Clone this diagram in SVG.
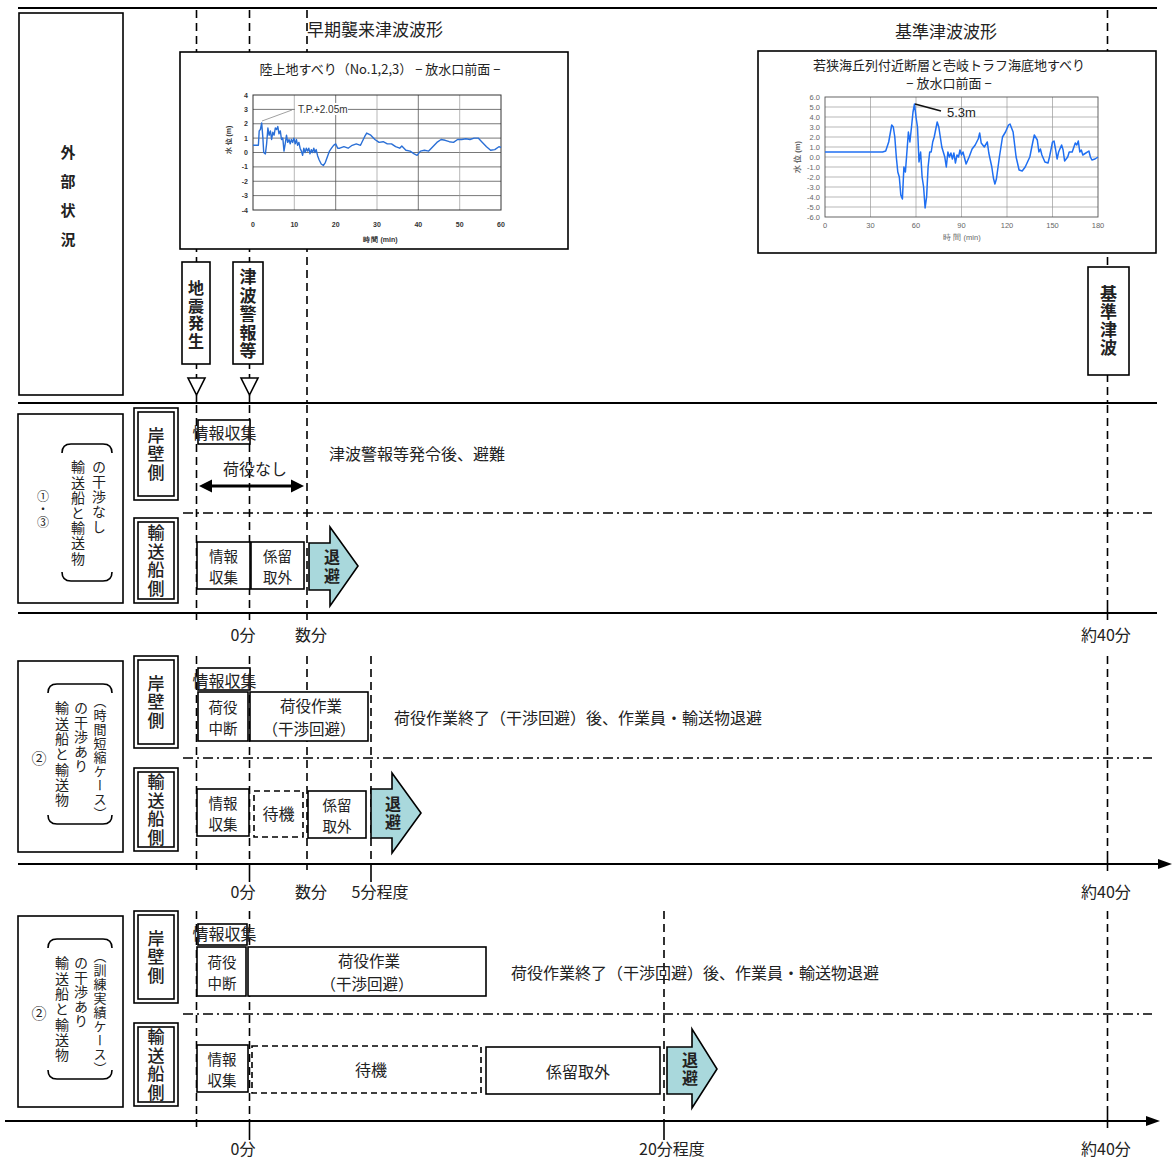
<svg xmlns="http://www.w3.org/2000/svg" width="1172" height="1160" viewBox="0 0 1172 1160">
<style>
.jp{font-family:"Noto Sans CJK JP","Noto Sans",sans-serif;fill:#222}
.f16{font-size:16px}
.f15{font-size:15px}
.f14{font-size:14px}
.f13{font-size:13px}
.f17{font-size:17px}
.bx{font-size:14.5px}
.bw{font-size:15.5px}
.b{font-weight:700}
.m{font-weight:500}
.c{text-anchor:middle;dominant-baseline:central}
.s{dominant-baseline:central}
.v{writing-mode:vertical-rl}
.dash{stroke:#000;stroke-width:1.6;stroke-dasharray:8 5;fill:none}
.dd{stroke:#000;stroke-width:1.4;stroke-dasharray:10 4 2 4;fill:none}
.ln{stroke:#000;stroke-width:2;fill:none}
.tk{stroke:#000;stroke-width:1.6;fill:none}
.box{fill:#fff;stroke:#000;stroke-width:1.6}
.nb{fill:none;stroke:#000;stroke-width:1.6}
.dbox{fill:#fff;stroke:#000;stroke-width:1.6;stroke-dasharray:6 4}
.arr{fill:#a9d8dc;stroke:#000;stroke-width:1.6}
.br{fill:none;stroke:#000;stroke-width:1.6}
.g1{stroke:#555;stroke-width:0.8;fill:none}
.g2{stroke:#999;stroke-width:0.7;fill:none}
.ax1{font-family:"Liberation Sans",sans-serif;font-size:7px;font-weight:700;fill:#333}
.ax2{font-family:"Liberation Sans",sans-serif;font-size:7.5px;fill:#666}
</style>

<g id="connectors">
  <line class="ln" x1="18" y1="8" x2="1157" y2="8"/>
  <line class="ln" x1="18" y1="403" x2="1157" y2="403"/>
  <line class="ln" x1="18" y1="613" x2="1157" y2="613"/>
  <line class="ln" x1="18" y1="864" x2="1160" y2="864"/>
  <polygon points="1172,864 1158,859 1158,869" fill="#000"/>
  <line class="ln" x1="5" y1="1121" x2="1148" y2="1121"/>
  <polygon points="1160,1121 1146,1116 1146,1126" fill="#000"/>
  <line class="dd" x1="183" y1="513" x2="1152" y2="513"/>
  <line class="dd" x1="183" y1="758" x2="1152" y2="758"/>
  <line class="dd" x1="183" y1="1014" x2="1152" y2="1014"/>
  <line class="dash" x1="196.5" y1="10" x2="196.5" y2="378"/>
  <line class="dash" x1="249.5" y1="10" x2="249.5" y2="378"/>
  <line class="tk" x1="196.5" y1="395" x2="196.5" y2="403"/>
  <line class="tk" x1="249.5" y1="395" x2="249.5" y2="403"/>
  <line class="dash" x1="307" y1="10" x2="307" y2="403"/>
  <line class="dash" x1="1107.5" y1="10" x2="1107.5" y2="403"/>
  <line class="dash" x1="196.5" y1="405" x2="196.5" y2="620"/>
  <line class="dash" x1="249.5" y1="405" x2="249.5" y2="620"/>
  <line class="dash" x1="307" y1="405" x2="307" y2="620"/>
  <line class="dash" x1="1107.5" y1="405" x2="1107.5" y2="606"/>
  <line class="tk" x1="1107.5" y1="606" x2="1107.5" y2="620"/>
  <line class="dash" x1="196.5" y1="656" x2="196.5" y2="870"/>
  <line class="dash" x1="249.5" y1="656" x2="249.5" y2="864"/>
  <line class="tk" x1="249.5" y1="864" x2="249.5" y2="882"/>
  <line class="dash" x1="307" y1="656" x2="307" y2="870"/>
  <line class="dash" x1="371" y1="656" x2="371" y2="864"/>
  <line class="tk" x1="371" y1="864" x2="371" y2="882"/>
  <line class="dash" x1="1107.5" y1="656" x2="1107.5" y2="857"/>
  <line class="tk" x1="1107.5" y1="857" x2="1107.5" y2="871"/>
  <line class="dash" x1="196.5" y1="911" x2="196.5" y2="1127"/>
  <line class="dash" x1="249.5" y1="911" x2="249.5" y2="1121"/>
  <line class="tk" x1="249.5" y1="1121" x2="249.5" y2="1140"/>
  <line class="dash" x1="664" y1="911" x2="664" y2="1121"/>
  <line class="tk" x1="664" y1="1121" x2="664" y2="1140"/>
  <line class="dash" x1="1107.5" y1="911" x2="1107.5" y2="1114"/>
  <line class="tk" x1="1107.5" y1="1114" x2="1107.5" y2="1128"/>
  <line x1="210" y1="486" x2="292" y2="486" stroke="#000" stroke-width="3"/>
  <polygon points="199,486 212,479.5 212,492.5" fill="#000"/>
  <polygon points="304,486 291,479.5 291,492.5" fill="#000"/>
  <polygon points="188,378 205,378 196.5,395" fill="#fff" stroke="#000" stroke-width="1.6"/>
  <polygon points="241,378 258,378 249.5,395" fill="#fff" stroke="#000" stroke-width="1.6"/>
</g>

<g id="gaibu">
  <rect class="nb" x="19" y="13" width="104" height="382"/>
  <text class="jp f15 b v" x="68" y="144.5" letter-spacing="14">外部状況</text>
</g>

<g id="title-early"><text class="jp f17 s" x="307" y="28">早期襲来津波波形</text></g>
<g id="title-base"><text class="jp f17 c" x="946" y="30">基準津波波形</text></g>

<g id="chart1">
  <rect class="box" x="180" y="52" width="388" height="197"/>
  <text class="jp c" x="380" y="68" font-size="13">陸上地すべり（No.1,2,3） − 放水口前面 −</text>
  <g class="g1">
    <line x1="253" y1="109.4" x2="501" y2="109.4"/><line x1="253" y1="123.75" x2="501" y2="123.75"/>
    <line x1="253" y1="138.1" x2="501" y2="138.1"/><line x1="253" y1="152.5" x2="501" y2="152.5"/>
    <line x1="253" y1="166.9" x2="501" y2="166.9"/><line x1="253" y1="181.25" x2="501" y2="181.25"/>
    <line x1="253" y1="195.6" x2="501" y2="195.6"/>
    <line x1="335.7" y1="95" x2="335.7" y2="210"/><line x1="418.3" y1="95" x2="418.3" y2="210"/>
  </g>
  <g class="g2">
    <line x1="294.3" y1="95" x2="294.3" y2="210"/><line x1="377" y1="95" x2="377" y2="210"/><line x1="459.7" y1="95" x2="459.7" y2="210"/>
  </g>
  <rect x="253" y="95" width="248" height="115" fill="none" stroke="#333" stroke-width="1"/>
  <g class="ax1" text-anchor="end">
    <text x="248" y="97.5">4</text><text x="248" y="111.9">3</text><text x="248" y="126.2">2</text><text x="248" y="140.6">1</text>
    <text x="248" y="155">0</text><text x="248" y="169.4">-1</text><text x="248" y="183.7">-2</text><text x="248" y="198.1">-3</text><text x="248" y="212.5">-4</text>
  </g>
  <g class="ax1" text-anchor="middle">
    <text x="253" y="227">0</text><text x="294.3" y="227">10</text><text x="335.7" y="227">20</text><text x="377" y="227">30</text>
    <text x="418.3" y="227">40</text><text x="459.7" y="227">50</text><text x="501" y="227">60</text>
    <text x="380" y="242">時 間 (min)</text>
  </g>
  <text class="ax1" text-anchor="middle" transform="translate(231,140) rotate(-90)">水 位 (m)</text>
  <rect x="295" y="103" width="53" height="12" fill="#fff"/>
  <text x="298" y="112.5" font-family="Liberation Sans,sans-serif" font-size="10" fill="#333">T.P.+2.05m</text>
  <line x1="262" y1="121" x2="292" y2="110" stroke="#888" stroke-width="0.8"/>
  <polyline fill="none" stroke="#2a6fd6" stroke-width="1.4" stroke-linejoin="round" points="253,145.3 258.4,145.3 259.2,130.9 260.4,129.5 261.7,123.0 262.9,138.1 263.7,152.5 265.4,153.9 266.6,143.9 267.9,128.0 269.1,135.2 270.4,130.9 271.6,139.5 272.8,132.3 274.1,135.2 275.3,128.0 276.6,129.5 277.8,126.6 279.0,133.8 280.3,130.9 281.5,139.5 282.8,138.1 284.0,151.1 285.2,143.9 286.5,135.2 287.7,142.4 289.0,139.5 290.2,143.9 291.4,139.5 292.7,142.4 293.9,138.1 295.2,143.9 296.4,139.5 297.6,145.3 298.9,142.4 300.1,148.2 301.4,151.1 302.6,155.4 303.8,148.2 305.1,152.5 306.3,148.2 307.6,151.1 308.8,148.2 310.0,153.9 311.3,149.6 312.5,152.5 313.8,148.2 315.0,152.5 316.2,149.6 317.5,155.4 319.1,159.7 321.2,164.0 323.3,165.5 325.3,162.6 327.4,156.8 329.5,151.1 331.5,148.2 333.6,145.3 335.7,143.9 337.7,148.2 339.8,148.2 343.9,146.7 348.1,148.2 352.2,145.3 356.3,143.9 360.5,145.3 364.6,136.7 366.7,133.1 370.8,135.2 374.9,139.5 379.1,142.4 383.2,141.7 387.3,143.9 391.5,143.9 395.6,146.7 399.7,148.2 401.8,146.0 405.9,150.3 410.1,151.1 414.2,153.9 417.1,155.4 420.4,151.1 424.5,150.3 428.7,151.1 432.8,146.7 436.9,142.4 441.1,139.5 445.2,140.3 449.3,141.7 453.5,142.4 457.6,139.5 461.7,139.5 465.8,138.8 470.0,139.5 474.1,138.1 478.2,138.1 482.4,142.4 486.5,146.7 490.6,150.3 494.8,149.6 498.9,146.7 501.0,147.5"/>
</g>

<g id="chart2">
  <rect class="box" x="758" y="51" width="398" height="202"/>
  <text class="jp c" x="949" y="64" font-size="13">若狭海丘列付近断層と壱岐トラフ海底地すべり</text>
  <text class="jp c" x="949" y="82" font-size="13">− 放水口前面 −</text>
  <g class="g2">
    <line x1="825" y1="107" x2="1098" y2="107"/><line x1="825" y1="117" x2="1098" y2="117"/><line x1="825" y1="127" x2="1098" y2="127"/>
    <line x1="825" y1="137" x2="1098" y2="137"/><line x1="825" y1="147" x2="1098" y2="147"/><line x1="825" y1="157" x2="1098" y2="157"/>
    <line x1="825" y1="167" x2="1098" y2="167"/><line x1="825" y1="177" x2="1098" y2="177"/><line x1="825" y1="187" x2="1098" y2="187"/>
    <line x1="825" y1="197" x2="1098" y2="197"/><line x1="825" y1="207" x2="1098" y2="207"/>
    <line x1="870.5" y1="97" x2="870.5" y2="217"/><line x1="916" y1="97" x2="916" y2="217"/><line x1="961.5" y1="97" x2="961.5" y2="217"/>
    <line x1="1007" y1="97" x2="1007" y2="217"/><line x1="1052.5" y1="97" x2="1052.5" y2="217"/>
  </g>
  <rect x="825" y="97" width="273" height="120" fill="none" stroke="#555" stroke-width="0.9"/>
  <g class="ax2" text-anchor="end">
    <text x="820" y="99.5">6.0</text><text x="820" y="109.5">5.0</text><text x="820" y="119.5">4.0</text><text x="820" y="129.5">3.0</text>
    <text x="820" y="139.5">2.0</text><text x="820" y="149.5">1.0</text><text x="820" y="159.5">0.0</text><text x="820" y="169.5">-1.0</text>
    <text x="820" y="179.5">-2.0</text><text x="820" y="189.5">-3.0</text><text x="820" y="199.5">-4.0</text><text x="820" y="209.5">-5.0</text><text x="820" y="219.5">-6.0</text>
  </g>
  <g class="ax2" text-anchor="middle">
    <text x="825" y="228">0</text><text x="870.5" y="228">30</text><text x="916" y="228">60</text><text x="961.5" y="228">90</text>
    <text x="1007" y="228">120</text><text x="1052.5" y="228">150</text><text x="1098" y="228">180</text>
    <text x="962" y="240">時 間 (min)</text>
  </g>
  <text class="ax2" text-anchor="middle" font-weight="700" fill="#333" transform="translate(800,157) rotate(-90)">水 位 (m)</text>
  <polyline fill="none" stroke="#1f6ff2" stroke-width="1.5" stroke-linejoin="round" points="825,152 882.6,152 885.7,151 888.7,142 891.7,125 893.3,127 894.8,137 896.3,157 897.8,172 899.3,177 900.8,195 902.4,199 903.9,167 905.4,172 906.9,152 908.4,132 909.9,142 911.5,127 913.0,112 914.5,104 916.0,117 917.5,127 919.0,162 920.6,152 922.1,177 923.6,187 925.1,208 926.6,197 928.1,167 929.7,152 931.2,152 932.7,142 934.2,137 937.2,122 938.8,127 941.8,147 944.8,157 946.3,167 947.9,152 949.4,157 950.9,153 952.4,159 953.9,153 955.4,163 957.0,155 958.5,157 960.0,150 961.5,155 963.0,152 966.1,164 969.1,157 972.1,149 975.2,145 978.2,139 979.7,133 981.2,143 984.3,147 987.3,142 988.8,153 991.8,167 993.4,178 994.9,184 996.4,179 999.4,157 1002.5,137 1005.5,132 1008.5,125 1010.0,124 1013.1,132 1016.1,157 1019.1,170 1022.2,171 1023.7,169 1025.2,167 1029.8,157 1032.8,142 1034.3,135 1037.3,140 1038.9,152 1040.4,149 1041.9,155 1044.9,162 1048.0,163 1049.5,157 1052.5,142 1054.0,141 1055.5,149 1057.1,159 1058.6,152 1061.6,145 1063.1,150 1064.6,161 1067.7,157 1069.2,152 1072.2,152 1075.3,143 1076.8,145 1078.3,141 1079.8,152 1081.3,150 1082.8,155 1085.9,153 1088.9,151 1090.4,157 1091.9,160 1095.0,159 1098.0,157"/>
  <line x1="915" y1="104" x2="941" y2="111" stroke="#111" stroke-width="1.6"/>
  <text x="947" y="117" font-family="Liberation Sans,sans-serif" font-size="13" fill="#222">5.3m</text>
</g>

<g id="jishin">
  <rect class="box" x="182" y="262" width="28" height="102"/>
  <text class="jp f16 b v" x="196" y="280" letter-spacing="1.5">地震発生</text>
</g>
<g id="keihou">
  <rect class="box" x="233" y="262" width="30" height="102"/>
  <text class="jp f17 b v" x="248" y="268.5" letter-spacing="1.5">津波警報等</text>
</g>
<g id="kijun">
  <rect class="box" x="1088" y="267" width="41" height="108"/>
  <text class="jp f17 b v" x="1108.5" y="285.5" letter-spacing="1">基準津波</text>
</g>

<!-- ===== Section 1 ===== -->
<g id="case13-label">
  <rect class="nb" x="18" y="414" width="105" height="189"/>
  <text class="jp v" font-size="12" x="43" y="490" letter-spacing="1">①・③</text>
  <text class="jp f14 v" x="78" y="460" letter-spacing="1.2">輸送船と輸送物</text>
  <text class="jp f14 v" x="99" y="460" letter-spacing="1">の干渉なし</text>
  <path class="br" d="M62,453 Q62,444 71,444 L103,444 Q112,444 112,453"/>
  <path class="br" d="M62,572 Q62,581 71,581 L103,581 Q112,581 112,572"/>
</g>
<g id="s1-gampeki">
  <rect class="nb" x="134" y="408" width="44" height="92"/>
  <rect class="nb" x="138" y="412" width="36" height="84"/>
  <text class="jp f17 m v" x="156" y="427" letter-spacing="1.5">岸壁側</text>
</g>
<g id="s1-yusousen">
  <rect class="nb" x="134" y="518" width="44" height="85"/>
  <rect class="nb" x="138" y="522" width="36" height="77"/>
  <text class="jp f17 m v" x="156" y="524.3" letter-spacing="1.5">輸送船側</text>
</g>
<g id="s1-info-top">
  <rect class="box" x="198" y="420" width="52" height="24"/>
  <text class="jp f16 c" x="224.5" y="432">情報収集</text>
</g>
<g id="s1-niyaku-nashi"><text class="jp f16 c" x="255" y="468">荷役なし</text></g>
<g id="s1-note"><text class="jp f16 s" x="329" y="453">津波警報等発令後、避難</text></g>
<g id="s1-info">
  <rect class="box" x="197" y="542" width="53" height="47"/>
  <text class="jp bx c" x="223.5" y="555">情報</text>
  <text class="jp bx c" x="223.5" y="576">収集</text>
</g>
<g id="s1-keiryu">
  <rect class="box" x="251" y="542" width="53" height="47"/>
  <text class="jp bx c" x="277.5" y="555">係留</text>
  <text class="jp bx c" x="277.5" y="576">取外</text>
</g>
<g id="s1-taihi">
  <polygon class="arr" points="309,543 330,543 330,527 358,566 330,606 330,590 309,590"/>
  <text class="jp f16 b v" x="332" y="549" letter-spacing="3">退避</text>
</g>
<g id="s1-axis-labels">
  <text class="jp f16 c" x="243" y="634">0分</text>
  <text class="jp f16 c" x="311" y="634">数分</text>
  <text class="jp f16 c" x="1106" y="634">約40分</text>
</g>

<!-- ===== Section 2 ===== -->
<g id="case2a-label">
  <rect class="nb" x="18" y="661" width="105" height="191"/>
  <text class="jp f15 c" x="39" y="757">②</text>
  <text class="jp f14 v" x="62" y="701" letter-spacing="1.3">輸送船と輸送物</text>
  <text class="jp f14 v" x="81" y="701" letter-spacing="0.5">の干渉あり</text>
  <text class="jp f13 v" x="100" y="694.5" letter-spacing="1">（時間短縮ケース）</text>
  <path class="br" d="M48,693 Q48,684 57,684 L103,684 Q112,684 112,693"/>
  <path class="br" d="M48,815 Q48,824 57,824 L103,824 Q112,824 112,815"/>
</g>
<g id="s2-gampeki">
  <rect class="nb" x="134" y="656" width="44" height="92"/>
  <rect class="nb" x="138" y="660" width="36" height="84"/>
  <text class="jp f17 m v" x="156" y="675" letter-spacing="1.5">岸壁側</text>
</g>
<g id="s2-yusousen">
  <rect class="nb" x="134" y="768" width="44" height="83"/>
  <rect class="nb" x="138" y="772" width="36" height="75"/>
  <text class="jp f17 m v" x="156" y="773.3" letter-spacing="1.5">輸送船側</text>
</g>
<g id="s2-info-top">
  <rect class="box" x="198" y="668" width="52" height="22"/>
  <text class="jp f16 c" x="224.5" y="680">情報収集</text>
</g>
<g id="s2-chudan">
  <rect class="box" x="198" y="692" width="50" height="49"/>
  <text class="jp bx c" x="223" y="706">荷役</text>
  <text class="jp bx c" x="223" y="727">中断</text>
</g>
<g id="s2-sagyou">
  <rect class="box" x="250" y="692" width="118" height="49"/>
  <text class="jp bw c" x="311" y="705.3">荷役作業</text>
  <text class="jp bw c" x="309" y="727.8">（干渉回避）</text>
</g>
<g id="s2-note"><text class="jp f16 s" x="394" y="717">荷役作業終了（干渉回避）後、作業員・輸送物退避</text></g>
<g id="s2-info">
  <rect class="box" x="197" y="789" width="52" height="47"/>
  <text class="jp bx c" x="223" y="802">情報</text>
  <text class="jp bx c" x="223" y="823">収集</text>
</g>
<g id="s2-taiki">
  <rect class="dbox" x="254" y="791" width="49" height="46"/>
  <text class="jp f16 c" x="278.5" y="813">待機</text>
</g>
<g id="s2-keiryu">
  <rect class="box" x="308" y="791" width="58" height="47"/>
  <text class="jp bx c" x="337" y="804">係留</text>
  <text class="jp bx c" x="337" y="825">取外</text>
</g>
<g id="s2-taihi">
  <polygon class="arr" points="371,789 392,789 392,773 421,813 392,853 392,838 371,838"/>
  <text class="jp f16 b v" x="393" y="796" letter-spacing="2">退避</text>
</g>
<g id="s2-axis-labels">
  <text class="jp f16 c" x="243" y="891">0分</text>
  <text class="jp f16 c" x="311" y="891">数分</text>
  <text class="jp f16 c" x="380" y="891">5分程度</text>
  <text class="jp f16 c" x="1106" y="891">約40分</text>
</g>

<!-- ===== Section 3 ===== -->
<g id="case2b-label">
  <rect class="nb" x="18" y="916" width="105" height="191"/>
  <text class="jp f15 c" x="39" y="1012">②</text>
  <text class="jp f14 v" x="62" y="956" letter-spacing="1.3">輸送船と輸送物</text>
  <text class="jp f14 v" x="81" y="956" letter-spacing="0.5">の干渉あり</text>
  <text class="jp f13 v" x="100" y="949.5" letter-spacing="1">（訓練実績ケース）</text>
  <path class="br" d="M48,948 Q48,939 57,939 L103,939 Q112,939 112,948"/>
  <path class="br" d="M48,1070 Q48,1079 57,1079 L103,1079 Q112,1079 112,1070"/>
</g>
<g id="s3-gampeki">
  <rect class="nb" x="134" y="911" width="44" height="92"/>
  <rect class="nb" x="138" y="915" width="36" height="84"/>
  <text class="jp f17 m v" x="156" y="930" letter-spacing="1.5">岸壁側</text>
</g>
<g id="s3-yusousen">
  <rect class="nb" x="134" y="1023" width="44" height="83"/>
  <rect class="nb" x="138" y="1027" width="36" height="75"/>
  <text class="jp f17 m v" x="156" y="1028.3" letter-spacing="1.5">輸送船側</text>
</g>
<g id="s3-info-top">
  <rect class="box" x="198" y="924" width="49" height="21"/>
  <text class="jp f16 c" x="224.5" y="933">情報収集</text>
</g>
<g id="s3-chudan">
  <rect class="box" x="197" y="947" width="49" height="49"/>
  <text class="jp bx c" x="222" y="961">荷役</text>
  <text class="jp bx c" x="222" y="982">中断</text>
</g>
<g id="s3-sagyou">
  <rect class="box" x="248" y="947" width="238" height="49"/>
  <text class="jp bw c" x="369" y="960.3">荷役作業</text>
  <text class="jp bw c" x="367" y="982.8">（干渉回避）</text>
</g>
<g id="s3-note"><text class="jp f16 s" x="511" y="972">荷役作業終了（干渉回避）後、作業員・輸送物退避</text></g>
<g id="s3-info">
  <rect class="box" x="197" y="1045" width="51" height="47"/>
  <text class="jp bx c" x="222" y="1058">情報</text>
  <text class="jp bx c" x="222" y="1079">収集</text>
</g>
<g id="s3-taiki">
  <rect class="dbox" x="252" y="1046" width="229" height="47"/>
  <text class="jp f16 c" x="371" y="1069">待機</text>
</g>
<g id="s3-keiryu">
  <rect class="box" x="486" y="1047" width="174" height="47"/>
  <text class="jp f16 c" x="578" y="1071">係留取外</text>
</g>
<g id="s3-taihi">
  <polygon class="arr" points="667,1047 692,1047 692,1029 717,1069 692,1108 692,1094 667,1094"/>
  <text class="jp f16 b v" x="690" y="1052" letter-spacing="2">退避</text>
</g>
<g id="s3-axis-labels">
  <text class="jp f16 c" x="243" y="1148">0分</text>
  <text class="jp f16 c" x="672" y="1148">20分程度</text>
  <text class="jp f16 c" x="1106" y="1148">約40分</text>
</g>
</svg>
